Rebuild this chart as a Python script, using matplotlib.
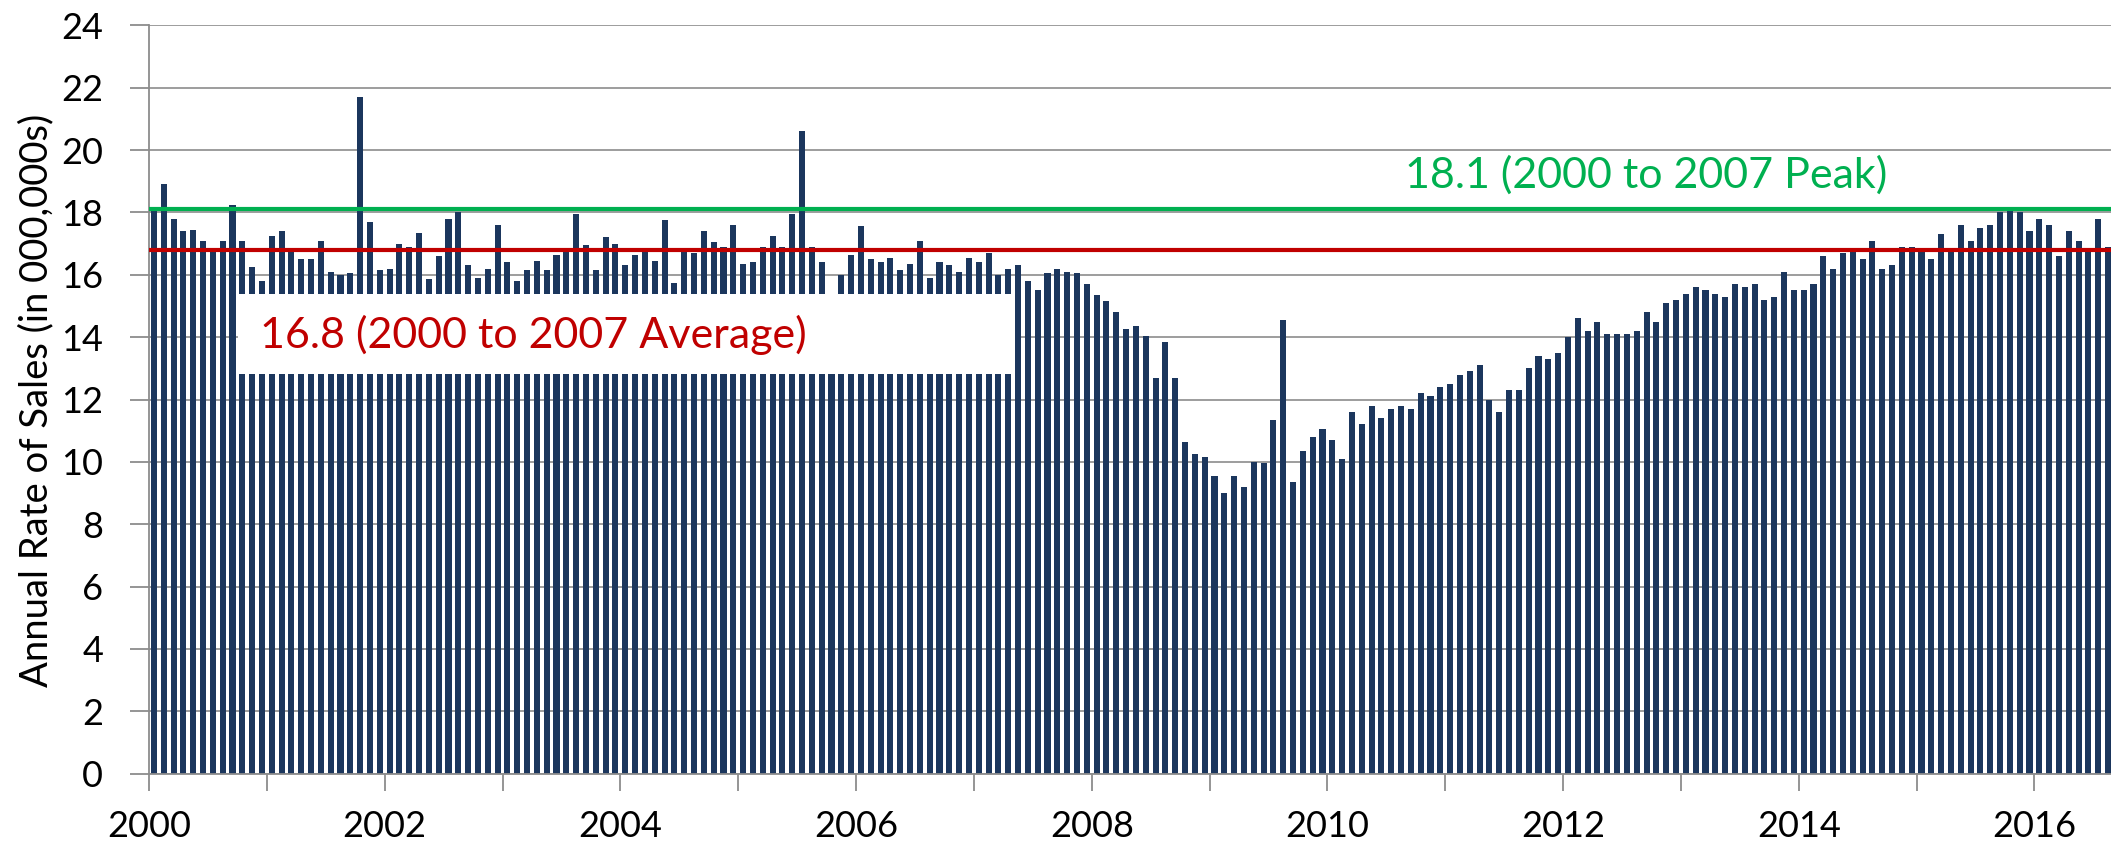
import matplotlib
matplotlib.use('Agg')
import matplotlib.pyplot as plt
from matplotlib.patches import Rectangle
import numpy as np

# ---- data (monthly US light-vehicle sales, SAAR, millions), Jan 2000 .. Aug 2016 ----
start_year = 2000
sales_2000_2001 = [18.1, 18.9, 17.8, 17.4, 17.45, 17.1, 16.8, 17.1, 18.25, 17.1, 16.25, 15.8,
                   17.25, 17.4, 16.8, 16.5, 16.5, 17.1, 16.1, 16.0, 16.05, 21.7, 17.7, 16.15]
sales_2002_2003 = [16.2, 17.0, 16.9, 17.35, 15.85, 16.6, 17.8, 18.0, 16.3, 15.9, 16.2, 17.6,
                   16.4, 15.8, 16.15, 16.45, 16.15, 16.65, 16.75, 17.95, 16.95, 16.15, 17.2, 17.0]
sales_2004_2005 = [16.3, 16.65, 16.8, 16.45, 17.75, 15.75, 16.8, 16.7, 17.4, 17.05, 16.9, 17.6,
                   16.35, 16.4, 16.9, 17.25, 16.9, 17.95, 20.6, 16.9, 16.4, 15.1, 16.0, 16.65]
sales_2006_2007 = [17.55, 16.5, 16.4, 16.55, 16.15, 16.35, 17.1, 15.9, 16.4, 16.3, 16.1, 16.55,
                   16.4, 16.7, 16.0, 16.2, 16.3, 15.8, 15.5, 16.05, 16.2, 16.1, 16.05, 15.7]
sales_2008_2009 = [15.35, 15.15, 14.8, 14.25, 14.35, 14.05, 12.7, 13.85, 12.7, 10.65, 10.25, 10.15,
                   9.55, 9.0, 9.55, 9.2, 10.0, 9.95, 11.35, 14.55, 9.35, 10.35, 10.8, 11.05]
sales_2010_2011 = [10.7, 10.1, 11.6, 11.2, 11.8, 11.4, 11.7, 11.8, 11.7, 12.2, 12.1, 12.4,
                   12.5, 12.8, 12.9, 13.1, 12.0, 11.6, 12.3, 12.3, 13.0, 13.4, 13.3, 13.5]
sales_2012_2013 = [14.0, 14.6, 14.2, 14.5, 14.1, 14.1, 14.1, 14.2, 14.8, 14.5, 15.1, 15.2,
                   15.4, 15.6, 15.5, 15.4, 15.3, 15.7, 15.6, 15.7, 15.2, 15.3, 16.1, 15.5]
sales_2014_2016 = [15.5, 15.7, 16.6, 16.2, 16.7, 16.8, 16.5, 17.1, 16.2, 16.3, 16.9, 16.9,
                   16.8, 16.5, 17.3, 16.8, 17.6, 17.1, 17.5, 17.6, 18.0, 18.05, 18.0, 17.4,
                   17.8, 17.6, 16.6, 17.4, 17.1, 16.8, 17.8, 16.9]
sales = (sales_2000_2001 + sales_2002_2003 + sales_2004_2005 + sales_2006_2007 +
         sales_2008_2009 + sales_2010_2011 + sales_2012_2013 + sales_2014_2016)

peak_value = 18.1
avg_value = 16.8
peak_label = "18.1 (2000 to 2007 Peak)"
avg_label = "16.8 (2000 to 2007 Average)"
y_label = "Annual Rate of Sales (in 000,000s)"
y_ticks = list(range(0, 25, 2))
label_years = list(range(2000, 2017, 2))
tick_years = list(range(2000, 2017))

# ---- style ----
plt.rcParams['font.family'] = ['Lato', 'DejaVu Sans']
navy = '#1B365D'
green = '#00B050'
red = '#C00000'
gray = '#8c8c8c'

W, H = 2111, 847
fig = plt.figure(figsize=(W / 100, H / 100), dpi=100)
left_px, bottom_px, top_px = 149, 773.6, 25.4
ax = fig.add_axes([left_px / W, (H - bottom_px) / H, 1 - left_px / W, (bottom_px - top_px) / H])

x = np.arange(len(sales)) + 0.5
ax.bar(x, sales, width=0.62, color=navy, zorder=2)
ax.set_xlim(0, (W - left_px) / 9.82)
ax.set_ylim(0, 24)

ax.set_yticks(y_ticks)
ax.set_yticklabels([str(v) for v in y_ticks])
ax.yaxis.grid(True, color=gray, linewidth=1.2)
ax.set_axisbelow(True)

ax.set_xticks([(y - start_year) * 12 for y in label_years])
ax.set_xticklabels([str(y) for y in label_years])
ax.set_xticks([(y - start_year) * 12 for y in tick_years], minor=True)
ax.tick_params(axis='x', which='both', length=12, width=1.3, color=gray, direction='out')
ax.tick_params(axis='x', which='major', labelsize=26, pad=14)
ax.tick_params(axis='y', length=14, width=1.3, color=gray, labelsize=26, pad=19)

for s in ['top', 'right']:
    ax.spines[s].set_visible(False)
for s in ['left', 'bottom']:
    ax.spines[s].set_color(gray)
    ax.spines[s].set_linewidth(1.3)

# white label box
ax.add_patch(Rectangle((9.05, 12.81), 88.2 - 9.05, 15.39 - 12.81,
                       facecolor='white', edgecolor='none', zorder=3))

ax.axhline(peak_value, color=green, linewidth=3, zorder=4)
ax.axhline(avg_value, color=red, linewidth=3, zorder=4)

ax.text(127.9, 18.79, peak_label, color=green, fontsize=31, ha='left', va='baseline', zorder=5)
ax.text(11.3, 13.66, avg_label, color=red, fontsize=31, ha='left', va='baseline', zorder=5)

fig.text(36.5 / W, (H - 400) / H, y_label, rotation=90, ha='center', va='center', fontsize=27.5)

fig.savefig('out.png', dpi=100, facecolor='white')
